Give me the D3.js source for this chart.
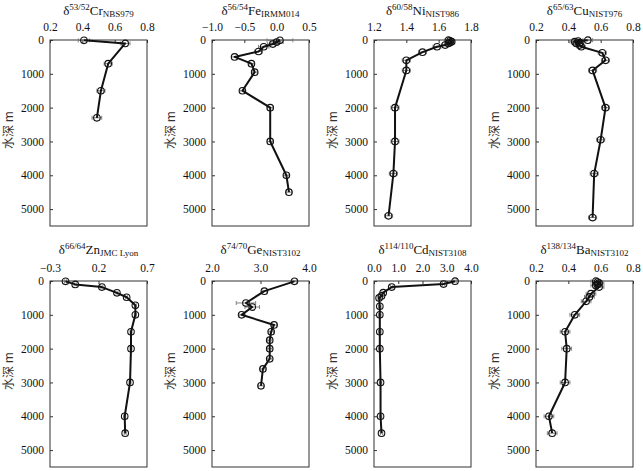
<!DOCTYPE html>
<html>
<head>
<meta charset="utf-8">
<script src="https://cdn.jsdelivr.net/npm/d3@7"></script>
<style>
  body { margin: 0; background: #fff; }
  svg { display: block; }
</style>
</head>
<body>
<svg id="chart"></svg>
<script>
var WIDTH = 643, HEIGHT = 471,
    PLOT_W = 97, PLOT_H = 186,
    COL_X = [50, 212, 374, 536],
    ROW_Y = [40, 281],
    MAX_DEPTH = 5500,
    SERIF = "'Liberation Serif','DejaVu Serif',serif",
    CJK = "'Noto Sans CJK SC','Noto Sans',sans-serif",
    LINE_COLOR = "#111",
    ERR_COLOR = "#777",
    FRAME_COLOR = "#333";

var depthTicks = [0, 1000, 2000, 3000, 4000, 5000];
var depthLabel = "水深 m";

// Cr
var crDepth = [10, 100, 700, 1500, 2300],
    crValue = [0.41, 0.665, 0.56, 0.515, 0.49],
    crErr   = [0.035, 0.03, 0.025, 0.025, 0.03],
    crTicks = [0.2, 0.4, 0.6, 0.8];
// Fe
var feDepth = [10, 60, 120, 200, 340, 500, 700, 950, 1500, 2000, 3000, 4000, 4500],
    feValue = [0.05, 0.0, -0.06, -0.2, -0.28, -0.65, -0.39, -0.34, -0.53, -0.1, -0.1, 0.15, 0.19],
    feErr   = [0.2, 0.1, 0.08, 0.08, 0.06, 0.05, 0.04, 0.04, 0.04, 0.04, 0.04, 0.04, 0.04],
    feTicks = [-1.0, -0.5, 0.0, 0.5];
// Ni
var niDepth = [5, 25, 50, 75, 100, 150, 200, 360, 600, 900, 2000, 3000, 3950, 5200],
    niValue = [1.66, 1.67, 1.68, 1.67, 1.66, 1.64, 1.59, 1.50, 1.40, 1.40, 1.33, 1.33, 1.32, 1.29],
    niErr   = [0.02, 0.02, 0.02, 0.02, 0.02, 0.02, 0.025, 0.025, 0.025, 0.025, 0.025, 0.025, 0.025, 0.025],
    niTicks = [1.2, 1.4, 1.6, 1.8];
// Cu
var cuDepth = [5, 30, 50, 80, 100, 150, 200, 380, 600, 900, 2000, 2950, 3950, 5250],
    cuValue = [0.52, 0.46, 0.44, 0.47, 0.45, 0.47, 0.48, 0.61, 0.63, 0.55, 0.63, 0.60, 0.56, 0.55],
    cuErr   = [0.03, 0.03, 0.03, 0.025, 0.025, 0.025, 0.025, 0.025, 0.025, 0.025, 0.025, 0.025, 0.025, 0.025],
    cuTicks = [0.2, 0.4, 0.6, 0.8];
// Zn
var znDepth = [10, 100, 180, 350, 480, 720, 1000, 1500, 2000, 3000, 4000, 4500],
    znValue = [-0.14, -0.04, 0.235, 0.39, 0.49, 0.58, 0.58, 0.535, 0.535, 0.525, 0.47, 0.475],
    znErr   = [0.01, 0.01, 0.01, 0.01, 0.01, 0.01, 0.01, 0.01, 0.01, 0.01, 0.01, 0.01],
    znTicks = [-0.3, 0.2, 0.7];
// Ge
var geDepth = [10, 300, 650, 770, 1000, 1300, 1500, 1750, 2000, 2300, 2600, 3100],
    geValue = [3.7, 3.08, 2.7, 2.83, 2.61, 3.28, 3.22, 3.19, 3.19, 3.19, 3.05, 3.01],
    geErr   = [0.04, 0.05, 0.2, 0.15, 0.05, 0.05, 0.05, 0.05, 0.05, 0.05, 0.05, 0.05],
    geTicks = [2.0, 3.0, 4.0];
// Cd
var cdDepth = [5, 90, 180, 345, 440, 500, 750, 1000, 1500, 2000, 3000, 4000, 4500],
    cdValue = [3.34, 2.87, 0.73, 0.38, 0.31, 0.21, 0.24, 0.24, 0.24, 0.24, 0.27, 0.27, 0.31],
    cdErr   = [0.05, 0.05, 0.05, 0.05, 0.05, 0.05, 0.05, 0.05, 0.05, 0.05, 0.05, 0.05, 0.05],
    cdTicks = [0.0, 1.0, 2.0, 3.0, 4.0];
// Ba
var baDepth = [5, 30, 60, 100, 130, 180, 375, 470, 600, 1000, 1500, 2000, 3000, 4000, 4500],
    baValue = [0.57, 0.58, 0.59, 0.58, 0.57, 0.59, 0.54, 0.53, 0.51, 0.44, 0.38, 0.39, 0.38, 0.28, 0.30],
    baErr   = [0.03, 0.03, 0.03, 0.03, 0.03, 0.03, 0.03, 0.03, 0.03, 0.03, 0.03, 0.03, 0.03, 0.03, 0.03],
    baTicks = [0.2, 0.4, 0.6, 0.8];

var panels = [
    {sup: "53/52", el: "Cr", sub: "NBS979", ticks: crTicks, depth: crDepth, value: crValue, err: crErr},
    {sup: "56/54", el: "Fe", sub: "IRMM014", ticks: feTicks, depth: feDepth, value: feValue, err: feErr},
    {sup: "60/58", el: "Ni", sub: "NIST986", ticks: niTicks, depth: niDepth, value: niValue, err: niErr},
    {sup: "65/63", el: "Cu", sub: "NIST976", ticks: cuTicks, depth: cuDepth, value: cuValue, err: cuErr},
    {sup: "66/64", el: "Zn", sub: "JMC Lyon", ticks: znTicks, depth: znDepth, value: znValue, err: znErr},
    {sup: "74/70", el: "Ge", sub: "NIST3102", ticks: geTicks, depth: geDepth, value: geValue, err: geErr},
    {sup: "114/110", el: "Cd", sub: "NIST3108", ticks: cdTicks, depth: cdDepth, value: cdValue, err: cdErr},
    {sup: "138/134", el: "Ba", sub: "NIST3102", ticks: baTicks, depth: baDepth, value: baValue, err: baErr}
];

var svg = d3.select("#chart")
    .attr("width", WIDTH)
    .attr("height", HEIGHT)
    .style("background", "#fff");

var fmt = d3.format(".1f"),
    depthFmt = d3.format("d");

panels.forEach(function(p, i) {
    var left = COL_X[i % 4], top = ROW_Y[Math.floor(i / 4)];
    var g = svg.append("g")
        .attr("class", "panel")
        .attr("transform", "translate(" + left + "," + top + ")");

    var x = d3.scaleLinear()
        .domain([p.ticks[0], p.ticks[p.ticks.length - 1]])
        .range([0, PLOT_W]);
    var y = d3.scaleLinear()
        .domain([0, MAX_DEPTH])
        .range([0, PLOT_H]);

    // top axis, ticks pointing inward
    var xAxis = g.append("g")
        .call(d3.axisTop(x).tickValues(p.ticks).tickFormat(fmt)
            .tickSizeInner(-3).tickSizeOuter(0).tickPadding(9));
    var yAxis = g.append("g")
        .call(d3.axisLeft(y).tickValues(depthTicks).tickFormat(depthFmt)
            .tickSizeInner(-3).tickSizeOuter(0).tickPadding(6));
    [xAxis, yAxis].forEach(function(a) {
        a.attr("font-family", SERIF).attr("font-size", 11.5);
        a.select(".domain").remove();
        a.selectAll("line").attr("stroke", FRAME_COLOR);
        a.selectAll("text")
            .style("font-family", SERIF)
            .style("font-size", "11.5px")
            .attr("fill", "#111");
    });

    g.append("rect")
        .attr("width", PLOT_W)
        .attr("height", PLOT_H)
        .attr("fill", "none")
        .attr("stroke", FRAME_COLOR)
        .attr("stroke-width", 1);

    // title
    var t = g.append("text")
        .attr("x", PLOT_W / 2)
        .attr("y", i < 4 ? -25 : -27)
        .attr("text-anchor", "middle")
        .style("font-family", SERIF)
        .style("font-size", "13px")
        .attr("fill", "#111");
    t.append("tspan").text("δ");
    t.append("tspan").attr("dy", -5).style("font-size", "9px").text(p.sup);
    t.append("tspan").attr("dy", 5).text(p.el);
    t.append("tspan").attr("dy", 2).style("font-size", "9px").text(p.sub);

    // depth label
    g.append("text")
        .attr("transform", "translate(-41," + (PLOT_H / 2 - 3) + ") rotate(-90)")
        .attr("text-anchor", "middle")
        .attr("dy", "0.35em")
        .style("font-family", CJK)
        .style("font-size", "12px")
        .attr("fill", "#333")
        .text(depthLabel);

    var pts = p.depth.map(function(d, k) {
        return {d: d, v: p.value[k], e: p.err[k]};
    });

    // error bars
    var eb = g.append("g").attr("class", "err")
        .attr("stroke", ERR_COLOR)
        .attr("stroke-width", 0.9);
    pts.forEach(function(pt) {
        var cy = y(pt.d), x0 = x(pt.v - pt.e), x1 = x(pt.v + pt.e);
        eb.append("line").attr("x1", x0).attr("x2", x1).attr("y1", cy).attr("y2", cy);
        eb.append("line").attr("x1", x0).attr("x2", x0).attr("y1", cy - 2).attr("y2", cy + 2);
        eb.append("line").attr("x1", x1).attr("x2", x1).attr("y1", cy - 2).attr("y2", cy + 2);
    });

    var line = d3.line()
        .x(function(d) { return x(d.v); })
        .y(function(d) { return y(d.d); });
    g.append("path")
        .datum(pts)
        .attr("d", line)
        .attr("fill", "none")
        .attr("stroke", LINE_COLOR)
        .attr("stroke-width", 2)
        .attr("stroke-linejoin", "round");

    g.selectAll(".pt")
        .data(pts)
        .enter().append("circle")
        .attr("class", "pt")
        .attr("cx", function(d) { return x(d.v); })
        .attr("cy", function(d) { return y(d.d); })
        .attr("r", 3.3)
        .attr("fill", "none")
        .attr("stroke", LINE_COLOR)
        .attr("stroke-width", 1.1);
});
</script>
</body>
</html>
